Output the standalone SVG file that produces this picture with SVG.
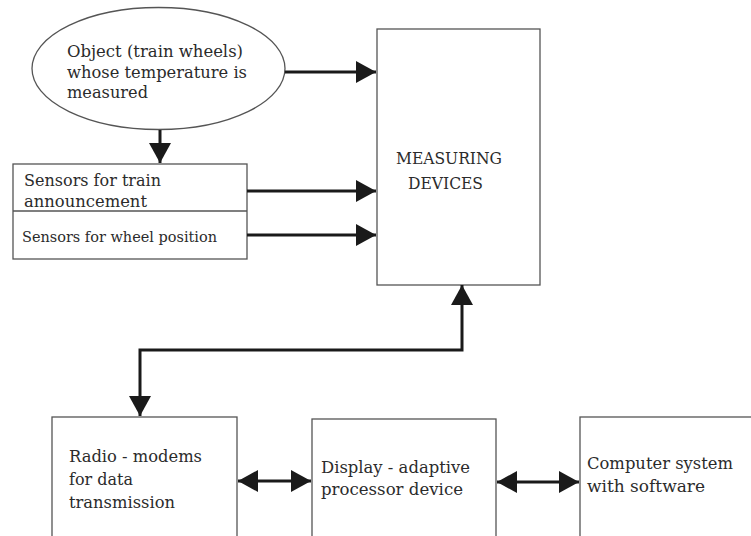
<svg xmlns="http://www.w3.org/2000/svg" width="751" height="536" viewBox="0 0 751 536">
<defs>
<style>
.box{fill:#fff;stroke:#555;stroke-width:1.3}
.t{font-family:"DejaVu Serif","Liberation Serif",serif;font-size:17.5px;fill:#2b2b2b}
.ts{font-family:"DejaVu Serif","Liberation Serif",serif;font-size:15px;fill:#2b2b2b}
.c{fill:none;stroke:#1a1a1a;stroke-width:3}
</style>
<marker id="ah" markerUnits="userSpaceOnUse" markerWidth="20" markerHeight="22" refX="20" refY="11" orient="auto-start-reverse">
<path d="M0,0 L20,11 L0,22 z" fill="#1a1a1a"/>
</marker>
</defs>
<rect width="751" height="536" fill="#fff"/>
<g id="object">
<ellipse class="box" cx="158.5" cy="68.5" rx="126.5" ry="61"/>
<text class="t" x="67" y="57" textLength="176" lengthAdjust="spacingAndGlyphs">Object (train wheels)</text>
<text class="t" x="67" y="78" textLength="180" lengthAdjust="spacingAndGlyphs">whose temperature is</text>
<text class="t" x="67" y="98" textLength="81" lengthAdjust="spacingAndGlyphs">measured</text>
</g>
<g id="sensors">
<rect class="box" x="13" y="164" width="234" height="95"/>
<line x1="13" y1="211" x2="247" y2="211" stroke="#555" stroke-width="1.3"/>
<text class="t" x="24" y="186" textLength="137" lengthAdjust="spacingAndGlyphs">Sensors for train</text>
<text class="t" x="24" y="207" textLength="123" lengthAdjust="spacingAndGlyphs">announcement</text>
<text class="ts" x="22" y="242" textLength="195" lengthAdjust="spacingAndGlyphs">Sensors for wheel position</text>
</g>
<g id="measuring">
<rect class="box" x="377" y="29" width="163" height="256"/>
<text class="t" x="396" y="164" textLength="106" lengthAdjust="spacingAndGlyphs">MEASURING</text>
<text class="t" x="408" y="189" textLength="75" lengthAdjust="spacingAndGlyphs">DEVICES</text>
</g>
<g id="radio">
<rect class="box" x="52" y="417" width="185" height="130"/>
<text class="t" x="69" y="462" textLength="133" lengthAdjust="spacingAndGlyphs">Radio - modems</text>
<text class="t" x="69" y="485" textLength="64" lengthAdjust="spacingAndGlyphs">for data</text>
<text class="t" x="69" y="508" textLength="106" lengthAdjust="spacingAndGlyphs">transmission</text>
</g>
<g id="display">
<rect class="box" x="312" y="419" width="184" height="130"/>
<text class="t" x="321" y="473" textLength="149" lengthAdjust="spacingAndGlyphs">Display - adaptive</text>
<text class="t" x="321" y="495" textLength="142" lengthAdjust="spacingAndGlyphs">processor device</text>
</g>
<g id="computer">
<rect class="box" x="580" y="417" width="190" height="130"/>
<text class="t" x="587" y="469" textLength="146" lengthAdjust="spacingAndGlyphs">Computer system</text>
<text class="t" x="587" y="492" textLength="118" lengthAdjust="spacingAndGlyphs">with software</text>
</g>
<g id="connectors">
<line class="c" x1="285" y1="72" x2="376" y2="72" marker-end="url(#ah)"/>
<line class="c" x1="160" y1="130" x2="160" y2="163" marker-end="url(#ah)"/>
<line class="c" x1="247" y1="191" x2="376" y2="191" marker-end="url(#ah)"/>
<line class="c" x1="247" y1="235" x2="376" y2="235" marker-end="url(#ah)"/>
<path class="c" d="M140,416 L140,350 L462,350 L462,285" marker-start="url(#ah)" marker-end="url(#ah)"/>
<line class="c" x1="238" y1="481" x2="311" y2="481" marker-start="url(#ah)" marker-end="url(#ah)"/>
<line class="c" x1="497" y1="482" x2="579" y2="482" marker-start="url(#ah)" marker-end="url(#ah)"/>
</g>
</svg>
